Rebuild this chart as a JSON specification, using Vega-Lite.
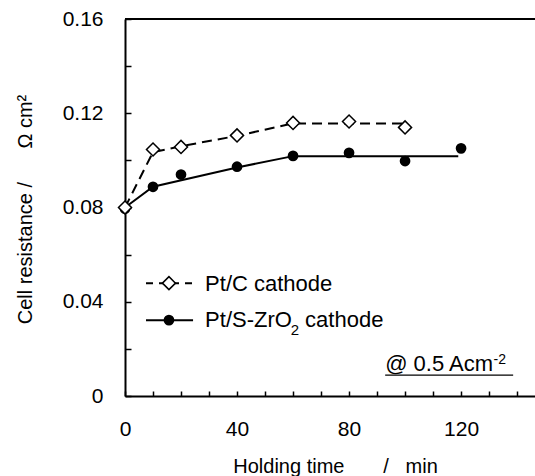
{
  "$schema": "https://vega.github.io/schema/vega-lite/v6.json",
  "width": 410,
  "height": 377,
  "autosize": {"type": "none"},
  "padding": {"left": 125, "top": 19, "right": 0, "bottom": 80},
  "background": "white",
  "config": {"view": {"stroke": null}, "font": "Liberation Sans"},
  "datasets": {
    "border": [{"t": 0, "t2": 146.4, "r": 0.16}],
    "obsC": [
      {"t": 0, "r": 0.080}, {"t": 10, "r": 0.1046}, {"t": 20, "r": 0.1057}, {"t": 40, "r": 0.1106},
      {"t": 60, "r": 0.1159}, {"t": 80, "r": 0.1165}, {"t": 100, "r": 0.1140}
    ],
    "obsS": [
      {"t": 0, "r": 0.0795}, {"t": 10, "r": 0.0888}, {"t": 20, "r": 0.0940}, {"t": 40, "r": 0.0973},
      {"t": 60, "r": 0.1019}, {"t": 80, "r": 0.1032}, {"t": 100, "r": 0.0997}, {"t": 120, "r": 0.1051}
    ],
    "fitC": [
      {"t": 0, "r": 0.080}, {"t": 10, "r": 0.1035}, {"t": 20, "r": 0.1060}, {"t": 40, "r": 0.1104},
      {"t": 60, "r": 0.1157}, {"t": 100, "r": 0.1157}
    ],
    "fitS": [
      {"t": 0, "r": 0.080}, {"t": 10, "r": 0.0888}, {"t": 40, "r": 0.0970}, {"t": 60, "r": 0.1018}, {"t": 119, "r": 0.1018}
    ],
    "legLineC": [{"t": 7.5, "r": 0.0479}, {"t": 24.3, "r": 0.0479}],
    "legLineS": [{"t": 7.5, "r": 0.0322}, {"t": 24.3, "r": 0.0322}],
    "legMarkC": [{"t": 15.7, "r": 0.0479}],
    "legMarkS": [{"t": 15.7, "r": 0.0322}],
    "legText": [
      {"t": 28.6, "r": 0.0447, "label": "Pt/C cathode"},
      {"t": 28.6, "r": 0.0291, "label": "Pt/S-ZrO"},
      {"t": 64.3, "r": 0.0291, "label": "cathode"}
    ],
    "legSub": [{"t": 59.2, "r": 0.0259, "label": "2"}],
    "note": [{"t": 92.9, "r": 0.0106, "label": "@ 0.5 Acm"}],
    "noteSup": [{"t": 131.6, "r": 0.0134, "label": "-2"}],
    "underline": [{"t": 92.9, "t2": 138.6, "r": 0.0089}]
  },
  "encoding": {
    "x": {
      "field": "t", "type": "quantitative",
      "scale": {"domain": [0, 146.4], "nice": false, "zero": false},
      "axis": {
        "values": [0, 10, 20, 30, 40, 50, 60, 70, 80, 90, 100, 110, 120, 130, 140],
        "labelExpr": "datum.value % 40 == 0 ? datum.label : ''",
        "grid": false, "tickSize": -5, "tickColor": "black", "tickWidth": 1.5,
        "domainColor": "black", "domainWidth": 2,
        "labelFont": "Liberation Sans", "labelFontSize": 21, "labelColor": "black",
        "labelBaseline": "alphabetic", "labelPadding": 44, "labelFlush": false, "labelOverlap": false,
        "title": "Holding time\u00a0\u00a0\u00a0\u00a0\u00a0\u00a0\u00a0/\u00a0\u00a0\u00a0min",
        "titleFont": "Liberation Sans", "titleFontSize": 20, "titleFontWeight": "normal", "titleColor": "black",
        "titleX": 210, "titleY": 76, "titleBaseline": "alphabetic", "titleAlign": "center"
      }
    },
    "y": {
      "field": "r", "type": "quantitative",
      "scale": {"domain": [0, 0.16], "nice": false, "zero": true},
      "axis": {
        "values": [0, 0.02, 0.04, 0.06, 0.08, 0.1, 0.12, 0.14, 0.16],
        "labelExpr": "round(datum.value*100) % 4 == 0 ? (datum.value == 0 ? '0' : format(datum.value, '.2f')) : ''",
        "grid": false, "tickSize": -6, "tickColor": "black", "tickWidth": 1.5,
        "domainColor": "black", "domainWidth": 2,
        "labelFont": "Liberation Sans", "labelFontSize": 21, "labelColor": "black",
        "labelPadding": 28, "labelFlush": false, "labelOverlap": false, "labelBaseline": "middle",
        "title": "Cell resistance /\u00a0\u00a0\u00a0\u00a0\u00a0\u00a0Ω cm²",
        "titleFont": "Liberation Sans", "titleFontSize": 20, "titleFontWeight": "normal", "titleColor": "black",
        "titleX": -94, "titleY": 190, "titleBaseline": "alphabetic", "titleAngle": -90, "titleAlign": "center"
      }
    }
  },
  "layer": [
    {"data": {"name": "border"}, "mark": {"type": "rule", "color": "black", "strokeWidth": 2}, "encoding": {"x2": {"field": "t2"}}},
    {"data": {"name": "fitS"}, "mark": {"type": "line", "color": "black", "strokeWidth": 2}, "encoding": {}},
    {"data": {"name": "fitC"}, "mark": {"type": "line", "color": "black", "strokeWidth": 2, "strokeDash": [10, 6]}, "encoding": {}},
    {"data": {"name": "obsS"}, "mark": {"type": "point", "shape": "circle", "filled": true, "color": "black", "size": 115, "opacity": 1}},
    {"data": {"name": "obsC"}, "mark": {"type": "point", "shape": "diamond", "filled": true, "fill": "white", "stroke": "black", "strokeWidth": 1.5, "size": 170, "opacity": 1}},
    {"data": {"name": "legLineC"}, "mark": {"type": "line", "color": "black", "strokeWidth": 2, "strokeDash": [7, 6]}, "encoding": {}},
    {"data": {"name": "legLineS"}, "mark": {"type": "line", "color": "black", "strokeWidth": 2}, "encoding": {}},
    {"data": {"name": "legMarkS"}, "mark": {"type": "point", "shape": "circle", "filled": true, "color": "black", "size": 115, "opacity": 1}},
    {"data": {"name": "legMarkC"}, "mark": {"type": "point", "shape": "diamond", "filled": true, "fill": "white", "stroke": "black", "strokeWidth": 1.5, "size": 170, "opacity": 1}},
    {"data": {"name": "legText"}, "mark": {"type": "text", "align": "left", "baseline": "alphabetic", "fontSize": 22, "font": "Liberation Sans", "color": "black"}, "encoding": {"text": {"field": "label"}}},
    {"data": {"name": "legSub"}, "mark": {"type": "text", "align": "left", "baseline": "alphabetic", "fontSize": 15, "font": "Liberation Sans", "color": "black"}, "encoding": {"text": {"field": "label"}}},
    {"data": {"name": "note"}, "mark": {"type": "text", "align": "left", "baseline": "alphabetic", "fontSize": 22, "font": "Liberation Sans", "color": "black"}, "encoding": {"text": {"field": "label"}}},
    {"data": {"name": "noteSup"}, "mark": {"type": "text", "align": "left", "baseline": "alphabetic", "fontSize": 14, "font": "Liberation Sans", "color": "black"}, "encoding": {"text": {"field": "label"}}},
    {"data": {"name": "underline"}, "mark": {"type": "rule", "color": "black", "strokeWidth": 1.2}, "encoding": {"x2": {"field": "t2"}}}
  ]
}
